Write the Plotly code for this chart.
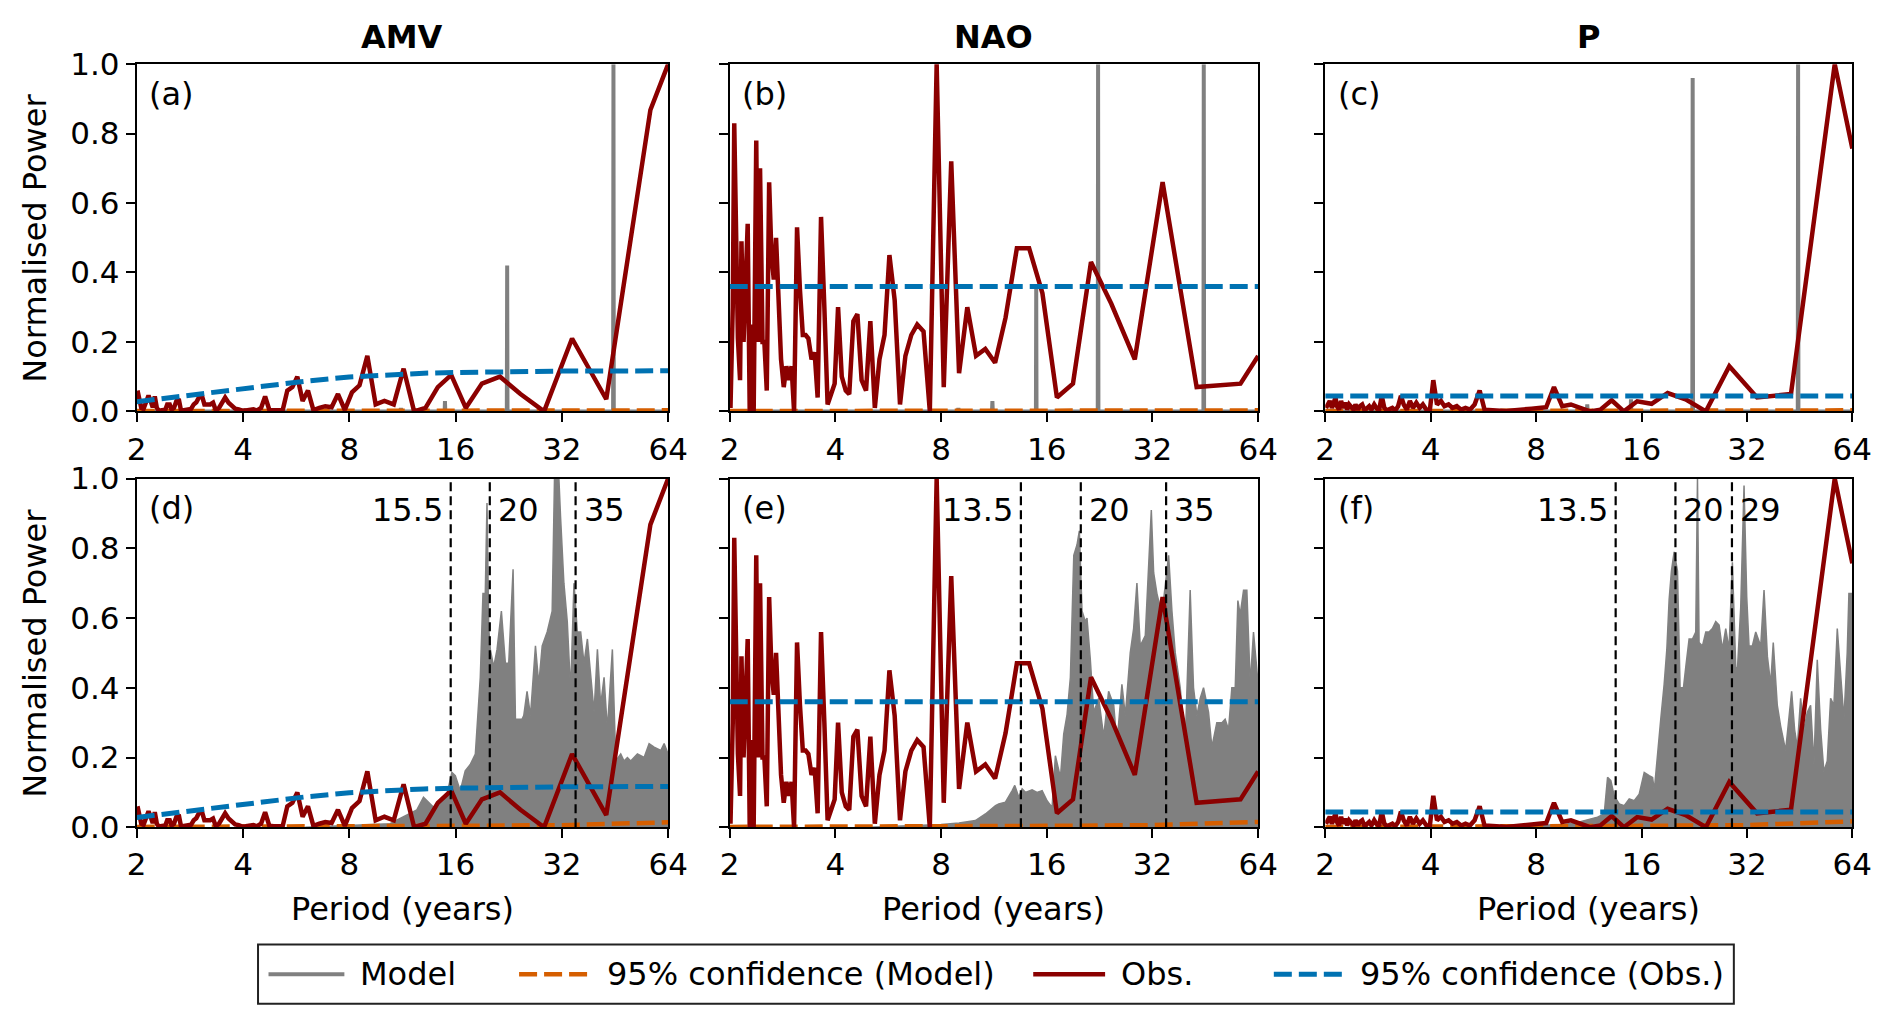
import math

import plotly.graph_objects as go

FONT = "DejaVu Sans"
TICK_SIZE = 31
TEXT_SIZE = 32
FIG_W, FIG_H = 1892, 1028

# the page puts the figure slightly inset and scaled in the picture;
# positions below are given in picture pixels and mapped through this
KX, OX = 0.9858, 16.3
KY, OY = 0.967, 24.6

MODEL_COLOR = "#808080"
MODEL_CI_COLOR = "#d55e00"
OBS_COLOR = "#8b0000"
OBS_CI_COLOR = "#0072b2"

VARIABLES = ["AMV", "NAO", "P"]
PANEL_LABELS = ["(a)", "(b)", "(c)", "(d)", "(e)", "(f)"]
X_TICKS = [2, 4, 8, 16, 32, 64]
Y_TICKS = [0.0, 0.2, 0.4, 0.6, 0.8, 1.0]

# observed periodogram (periods in years, shared by the three indices)
OBS_PERIOD = [
    2.01, 2.04, 2.06, 2.09, 2.11, 2.14, 2.16, 2.19, 2.22, 2.25,
    2.28, 2.31, 2.34, 2.38, 2.41, 2.44, 2.48, 2.51, 2.55, 2.59,
    2.63, 2.67, 2.71, 2.76, 2.80, 2.85, 2.90, 2.95, 3.00, 3.05,
    3.11, 3.17, 3.23, 3.29, 3.35, 3.42, 3.49, 3.56, 3.64, 3.72,
    3.80, 3.89, 3.98,
    4.07, 4.17, 4.28, 4.38, 4.50, 4.62, 4.75, 4.89, 5.03, 5.18,
    5.34, 5.52, 5.70, 5.90, 6.11, 6.33, 6.58, 6.84, 7.13, 7.43,
    7.77, 8.14, 8.55, 9.00, 9.50, 10.06, 10.69, 11.40, 12.21, 13.15,
    14.25, 15.55, 17.10, 19.00, 21.38, 24.43, 28.50, 34.20, 42.75, 57.00,
    64.00,
]
OBS_AMV = [
    0.06, 0.03, 0.01, 0.007, 0.02, 0.03, 0.046, 0.03, 0.012, 0.043,
    0.01, 0.002, 0.002, 0.003, 0.005, 0.02, 0.02, 0.005, 0.01, 0.03,
    0.036, 0.002, 0.003, 0.005, 0.004, 0.007, 0.02, 0.026, 0.04, 0.05,
    0.02, 0.02, 0.02, 0.025, 0.003, 0.01, 0.025, 0.04, 0.025, 0.015,
    0.008, 0.006, 0.002,
    0.003, 0.004, 0.006, 0.003, 0.01, 0.043, 0.004, 0.003, 0.003, 0.003,
    0.06, 0.07, 0.1, 0.03, 0.06, 0.004, 0.01, 0.015, 0.012, 0.05,
    0.004, 0.055, 0.075, 0.16, 0.02, 0.03, 0.02, 0.123, 0.0, 0.01,
    0.07, 0.105, 0.01, 0.08, 0.10, 0.05, 0.0, 0.21, 0.035, 0.868,
    1.0,
]
OBS_NAO = [
    0.01, 0.3, 0.83, 0.45, 0.21, 0.09, 0.49, 0.2, 0.35, 0.54,
    0.0, 0.25, 0.0, 0.78, 0.2, 0.7, 0.2, 0.2, 0.06, 0.66,
    0.45, 0.38, 0.5, 0.3, 0.15, 0.07, 0.13, 0.09, 0.13, 0.0,
    0.53, 0.35, 0.22, 0.22, 0.21, 0.15, 0.17, 0.04, 0.56, 0.3,
    0.02, 0.05, 0.08,
    0.3, 0.1, 0.06, 0.05, 0.26, 0.28, 0.09, 0.06, 0.26, 0.01,
    0.15, 0.22, 0.45, 0.32, 0.02, 0.16, 0.22, 0.25, 0.23, 0.0,
    1.0, 0.07, 0.72, 0.11, 0.3, 0.16, 0.18, 0.14, 0.27, 0.47,
    0.47, 0.34, 0.04, 0.08, 0.43, 0.31, 0.15, 0.66, 0.07, 0.08,
    0.16,
]
OBS_P = [
    0.01, 0.02, 0.03, 0.01, 0.02, 0.04, 0.015, 0.005, 0.03, 0.01,
    0.025, 0.005, 0.02, 0.01, 0.005, 0.02, 0.005, 0.015, 0.02, 0.003,
    0.01, 0.015, 0.005, 0.02, 0.01, 0.003, 0.045, 0.01, 0.003, 0.005,
    0.01, 0.003, 0.015, 0.045, 0.02, 0.005, 0.03, 0.01, 0.025, 0.01,
    0.02, 0.005, 0.005,
    0.09, 0.02, 0.03, 0.015, 0.02, 0.01, 0.015, 0.005, 0.01, 0.005,
    0.02, 0.06, 0.005, 0.003, 0.002, 0.002, 0.001, 0.002, 0.003, 0.005,
    0.008, 0.01, 0.012, 0.07, 0.015, 0.02, 0.01, 0.0, 0.005, 0.032,
    0.0, 0.029, 0.022, 0.053, 0.035, 0.0, 0.13, 0.04, 0.05, 1.0,
    0.757,
]

# 95% confidence of the observations
OBS_CI_PERIOD_AMV = [2, 2.5, 3, 4, 5, 6, 8, 10, 13, 16, 21, 32, 64]
OBS_CI_AMV = [0.028, 0.04, 0.049, 0.064, 0.078, 0.087, 0.099, 0.105, 0.11, 0.112, 0.114, 0.116, 0.117]
OBS_CI_PERIOD_FLAT = [2, 64]
OBS_CI_NAO = [0.36, 0.36]
OBS_CI_P = [0.044, 0.044]

# model spectra, top row (isolated peaks)
MODEL_TOP_PERIOD = [2.0, 8.93, 8.96, 8.99, 11.17, 11.2, 11.23, 14.9, 14.93, 14.96,
                    22.35, 22.4, 22.45, 44.7, 44.8, 44.9, 64.0]
MODEL_TOP_AMV = [0, 0, 0.005, 0, 0, 0.01, 0, 0, 0.03, 0, 0, 0.42, 0, 0, 1.0, 0, 0]
MODEL_TOP_NAO = [0, 0, 0.01, 0, 0, 0.03, 0, 0, 0.36, 0, 0, 1.0, 0, 0, 1.0, 0, 0]
MODEL_TOP_P = [0, 0, 0.0, 0, 0, 0.02, 0, 0, 0.035, 0, 0, 0.96, 0, 0, 1.0, 0, 0]

# model spectra, bottom row (dense spectrum, upper envelope)
MODEL_PERIOD_AMV = [
    6.0, 7.0, 8.0, 9.0, 10.0, 10.44, 10.9, 11.39, 11.9, 12.43,
    12.98, 13.27, 13.86, 14.48, 15.12, 15.62, 15.97, 16.5, 17.04, 17.61,
    18.2, 18.8, 19.13, 19.42, 19.64, 19.86, 20.07, 20.52, 20.97, 21.57,
    22.14, 22.63, 23.28, 23.64, 24.16, 24.69, 24.96, 25.5, 26.08, 26.94,
    27.53, 28.15, 29.08, 30.04, 30.5, 31.39, 31.73, 32.43, 33.15, 33.88,
    34.63, 35.4, 36.18, 36.97, 37.8, 38.62, 39.48, 40.35, 41.22, 42.14,
    43.06, 44.49, 45.48, 46.98, 48.0, 49.07, 50.14, 52.38, 54.72, 56.53,
    58.4, 61.0, 62.35, 64.0,
]
MODEL_AMV = [
    0.0, 0.003, 0.005, 0.008, 0.01, 0.01, 0.02, 0.03, 0.04, 0.05,
    0.086, 0.076, 0.057, 0.067, 0.095, 0.157, 0.148, 0.105, 0.162, 0.18,
    0.21, 0.43, 0.67, 0.67, 0.93, 0.57, 0.51, 0.46, 0.51, 0.62,
    0.47, 0.47, 0.74, 0.31, 0.31, 0.31, 0.32, 0.39, 0.32, 0.52,
    0.41, 0.52, 0.56, 0.62, 1.0, 1.0, 0.89, 0.70, 0.59, 0.39,
    0.70, 0.56, 0.56, 0.47, 0.54, 0.44, 0.33, 0.51, 0.35, 0.43,
    0.28, 0.51, 0.19, 0.21, 0.19, 0.20, 0.19, 0.21, 0.20, 0.24,
    0.23, 0.22, 0.24, 0.21,
]
MODEL_PERIOD_NAO = [
    5.0, 6.0, 7.0, 8.0, 9.0, 9.39, 10.02, 10.7, 11.43, 11.68,
    12.2, 12.75, 12.97, 13.32, 13.61, 13.91, 14.53, 15.01, 15.52, 16.03,
    16.57, 16.93, 17.5, 17.88, 18.28, 18.68, 19.1, 19.51, 19.81, 20.16,
    20.6, 20.83, 21.29, 21.77, 22.49, 23.24, 24.0, 24.82, 25.35, 26.19,
    26.78, 27.66, 28.28, 28.9, 29.54, 30.53, 31.2, 31.76, 32.25, 32.95,
    34.06, 35.58, 36.36, 37.16, 38.39, 39.67, 40.98, 41.89, 42.82, 43.78,
    44.73, 46.22, 47.24, 48.8, 50.46, 51.54, 52.7, 53.86, 55.07, 56.03,
    56.89, 58.16, 59.43, 60.76, 62.08, 63.47, 64.0,
]
MODEL_NAO = [
    0.0, 0.003, 0.005, 0.008, 0.012, 0.014, 0.019, 0.038, 0.062, 0.067,
    0.072, 0.105, 0.12, 0.086, 0.11, 0.10, 0.107, 0.10, 0.105, 0.076,
    0.057, 0.205, 0.143, 0.267, 0.324, 0.43, 0.78, 0.81, 0.85, 0.62,
    0.59, 0.6, 0.48, 0.33, 0.37, 0.26, 0.39, 0.35, 0.24, 0.41,
    0.32, 0.5, 0.57, 0.70, 0.52, 0.55, 0.77, 0.91, 0.73, 0.67,
    0.61, 0.78, 0.62, 0.5, 0.4, 0.24, 0.68, 0.4, 0.32, 0.37,
    0.4, 0.33, 0.23, 0.3, 0.3, 0.31, 0.28, 0.4, 0.4, 0.65,
    0.61, 0.68, 0.68, 0.41, 0.56, 0.45, 0.41,
]
MODEL_PERIOD_P = [
    5.5, 7.0, 8.0, 9.0, 9.63, 10.51, 11.47, 11.98, 12.52, 12.8,
    13.08, 13.37, 13.82, 14.28, 14.76, 15.25, 15.76, 16.29, 16.83, 17.21,
    17.4, 17.78, 18.18, 18.57, 18.9, 19.19, 19.48, 19.83, 20.27, 20.62,
    21.08, 21.41, 21.88, 22.37, 22.86, 23.12, 23.36, 23.89, 24.42, 24.95,
    25.5, 26.07, 26.65, 27.23, 27.84, 28.45, 29.08, 29.73, 30.06, 30.72,
    31.4, 31.96, 32.45, 33.17, 33.91, 35.04, 35.81, 36.61, 37.41, 38.05,
    39.07, 39.94, 41.27, 42.94, 43.78, 44.57, 45.55, 46.56, 47.59, 48.64,
    49.73, 50.82, 51.96, 53.08, 54.27, 55.48, 56.69, 57.96, 59.23, 60.55,
    61.88, 62.57, 64.0,
]
MODEL_P = [
    0.0, 0.004, 0.006, 0.008, 0.008, 0.014, 0.024, 0.029, 0.038, 0.143,
    0.134, 0.09, 0.067, 0.062, 0.081, 0.076, 0.095, 0.157, 0.148, 0.143,
    0.105, 0.22, 0.315, 0.41, 0.51, 0.654, 0.735, 0.79, 0.735, 0.40,
    0.40, 0.46, 0.54, 0.54, 0.56, 1.0, 0.53, 0.52, 0.56, 0.56,
    0.57, 0.59, 0.58, 0.51, 0.57, 0.51, 0.76, 0.46, 0.45, 0.63,
    0.98, 0.66, 0.52, 0.52, 0.56, 0.52, 0.68, 0.49, 0.41, 0.53,
    0.35, 0.29, 0.22, 0.39, 0.28, 0.23, 0.37, 0.28, 0.33, 0.35,
    0.18, 0.48, 0.28, 0.16, 0.19, 0.37, 0.35, 0.57, 0.43, 0.31,
    0.5, 0.67, 0.67,
]

# 95% confidence of the model
MODEL_CI_PERIOD = [2, 4, 8, 16, 32, 64]
MODEL_CI_TOP = [0.001, 0.001, 0.001, 0.001, 0.002, 0.003]
MODEL_CI_AMV = [0.001, 0.001, 0.002, 0.004, 0.006, 0.014]
MODEL_CI_NAO = [0.001, 0.001, 0.002, 0.004, 0.006, 0.015]
MODEL_CI_P = [0.001, 0.001, 0.002, 0.004, 0.006, 0.017]

# highlighted periods (bottom row)
MARK_AMV = [15.5, 20, 35]
MARK_NAO = [13.5, 20, 35]
MARK_P = [13.5, 20, 29]
MARK_TEXT_AMV = ["15.5", "20", "35"]
MARK_TEXT_NAO = ["13.5", "20", "35"]
MARK_TEXT_P = ["13.5", "20", "29"]

LEGEND_NAMES = ["Model", "95% confidence (Model)", "Obs.", "95% confidence (Obs.)"]

OBS = {"AMV": OBS_AMV, "NAO": OBS_NAO, "P": OBS_P}
OBS_CI = {"AMV": (OBS_CI_PERIOD_AMV, OBS_CI_AMV), "NAO": (OBS_CI_PERIOD_FLAT, OBS_CI_NAO),
          "P": (OBS_CI_PERIOD_FLAT, OBS_CI_P)}
MODEL_TOP = {"AMV": MODEL_TOP_AMV, "NAO": MODEL_TOP_NAO, "P": MODEL_TOP_P}
MODEL = {"AMV": (MODEL_PERIOD_AMV, MODEL_AMV), "NAO": (MODEL_PERIOD_NAO, MODEL_NAO),
         "P": (MODEL_PERIOD_P, MODEL_P)}
MODEL_CI = {"AMV": MODEL_CI_AMV, "NAO": MODEL_CI_NAO, "P": MODEL_CI_P}
MARKS = {"AMV": (MARK_AMV, MARK_TEXT_AMV), "NAO": (MARK_NAO, MARK_TEXT_NAO),
         "P": (MARK_P, MARK_TEXT_P)}

# panel frames, in picture pixels
COL_PX = [(135.0, 667.3), (729.0, 1258.3), (1325.5, 1853.5)]
ROW_PX = [(62.0, 410.0), (477.3, 826.7)]

DASH = "18px,7px"
font = dict(family=FONT, size=TICK_SIZE, color="black")
big_font = dict(family=FONT, size=TEXT_SIZE, color="black")


def px(x):
    return (x / KX - OX) / FIG_W


def py(y):
    return 1 - (y / KY - OY) / FIG_H


def ax_suffix(n):
    return "" if n == 1 else str(n)


fig = go.Figure()
annotations = []
shapes = []
layout_axes = {}

for row in range(2):
    for col, var in enumerate(VARIABLES):
        n = row * 3 + col + 1
        xa, ya = "x" + ax_suffix(n), "y" + ax_suffix(n)

        if row == 0:
            fig.add_trace(go.Scatter(x=MODEL_TOP_PERIOD, y=MODEL_TOP[var], mode="lines", name="Model",
                                     line=dict(color=MODEL_COLOR, width=4), xaxis=xa, yaxis=ya))
            ci = MODEL_CI_TOP
        else:
            mp, mv = MODEL[var]
            fig.add_trace(go.Scatter(x=mp, y=mv, mode="lines", fill="tozeroy", fillcolor=MODEL_COLOR,
                                     line=dict(color=MODEL_COLOR, width=1.5), name="Model",
                                     xaxis=xa, yaxis=ya))
            ci = MODEL_CI[var]
        fig.add_trace(go.Scatter(x=MODEL_CI_PERIOD, y=ci, mode="lines", name="95% confidence (Model)",
                                 line=dict(color=MODEL_CI_COLOR, width=4.5, dash=DASH),
                                 xaxis=xa, yaxis=ya))
        fig.add_trace(go.Scatter(x=OBS_PERIOD, y=OBS[var], mode="lines", name="Obs.",
                                 line=dict(color=OBS_COLOR, width=4.5), xaxis=xa, yaxis=ya))
        cp, cv = OBS_CI[var]
        fig.add_trace(go.Scatter(x=cp, y=cv, mode="lines", name="95% confidence (Obs.)",
                                 line=dict(color=OBS_CI_COLOR, width=5, dash=DASH),
                                 xaxis=xa, yaxis=ya))

        if row == 1:
            periods, texts = MARKS[var]
            for i, (p, t) in enumerate(zip(periods, texts)):
                fig.add_trace(go.Scatter(x=[p, p], y=[0, 1], mode="lines",
                                         line=dict(color="black", width=2.2, dash="9px,5px"),
                                         xaxis=xa, yaxis=ya))
                annotations.append(dict(
                    text=t, xref=xa, x=math.log10(p), yref=ya + " domain", y=0.91,
                    xanchor="right" if i == 0 else "left", xshift=-6 if i == 0 else 6,
                    yanchor="middle", showarrow=False, font=big_font))

        annotations.append(dict(text=PANEL_LABELS[n - 1], xref=xa + " domain", x=0.02,
                                yref=ya + " domain", y=0.915, xanchor="left", yanchor="middle",
                                showarrow=False, font=big_font))

        x0, x1 = COL_PX[col]
        y0, y1 = ROW_PX[row]
        layout_axes["xaxis" + ax_suffix(n)] = dict(
            domain=[px(x0), px(x1)], anchor=ya, type="log",
            range=[math.log10(2), math.log10(64)],
            tickvals=X_TICKS, ticktext=[str(v) for v in X_TICKS],
            ticks="outside", ticklen=9, tickwidth=2, tickcolor="black",
            showline=True, linecolor="black", linewidth=2, mirror=True,
            showgrid=False, zeroline=False, tickfont=font)
        layout_axes["yaxis" + ax_suffix(n)] = dict(
            domain=[py(y1), py(y0)], anchor=xa, range=[0, 1],
            tickvals=Y_TICKS, ticktext=[f"{v:.1f}" for v in Y_TICKS],
            showticklabels=(col == 0),
            ticks="outside", ticklen=9, tickwidth=2, tickcolor="black",
            showline=True, linecolor="black", linewidth=2, mirror=True,
            showgrid=False, zeroline=False, tickfont=font)

for col, var in enumerate(VARIABLES):
    cx = px((COL_PX[col][0] + COL_PX[col][1]) / 2)
    annotations.append(dict(text=f"<b>{var}</b>", xref="paper", x=cx, yref="paper", y=py(35),
                            xanchor="center", yanchor="middle", showarrow=False, font=big_font))
    annotations.append(dict(text="Period (years)", xref="paper", x=cx, yref="paper", y=py(909),
                            xanchor="center", yanchor="middle", showarrow=False, font=big_font))

for row in range(2):
    cy = py((ROW_PX[row][0] + ROW_PX[row][1]) / 2)
    annotations.append(dict(text="Normalised Power", xref="paper", x=px(33), yref="paper", y=cy,
                            textangle=-90, xanchor="center", yanchor="middle", showarrow=False,
                            font=big_font))

# legend box drawn by hand so the entry spacing follows the original
LEG_BOX = (256.5, 944.3, 1734.8, 1003.5)
LEG_Y = 974
LEG_LINES = [(267, 343), (518, 590), (1033, 1105), (1274, 1346)]
LEG_TEXT_X = [357, 604, 1119, 1358]
LEG_STYLE = [dict(color=MODEL_COLOR, width=4), dict(color=MODEL_CI_COLOR, width=4.5, dash=DASH),
             dict(color=OBS_COLOR, width=4.5), dict(color=OBS_CI_COLOR, width=5, dash=DASH)]

shapes.append(dict(type="rect", xref="paper", yref="paper",
                   x0=px(LEG_BOX[0]), x1=px(LEG_BOX[2]), y0=py(LEG_BOX[3]), y1=py(LEG_BOX[1]),
                   line=dict(color="#222222", width=2), fillcolor="white", layer="above"))
for (lx0, lx1), tx, style, name in zip(LEG_LINES, LEG_TEXT_X, LEG_STYLE, LEGEND_NAMES):
    shapes.append(dict(type="line", xref="paper", yref="paper", x0=px(lx0), x1=px(lx1),
                       y0=py(LEG_Y), y1=py(LEG_Y), line=style, layer="above"))
    annotations.append(dict(text=name, xref="paper", x=px(tx), yref="paper", y=py(LEG_Y),
                            xanchor="left", yanchor="middle", showarrow=False, font=big_font))

fig.update_layout(
    width=FIG_W, height=FIG_H,
    margin=dict(l=0, r=0, t=0, b=0),
    paper_bgcolor="white", plot_bgcolor="white",
    font=font,
    showlegend=False,
    annotations=annotations,
    shapes=shapes,
    **layout_axes,
)

fig.write_html("out.html")
